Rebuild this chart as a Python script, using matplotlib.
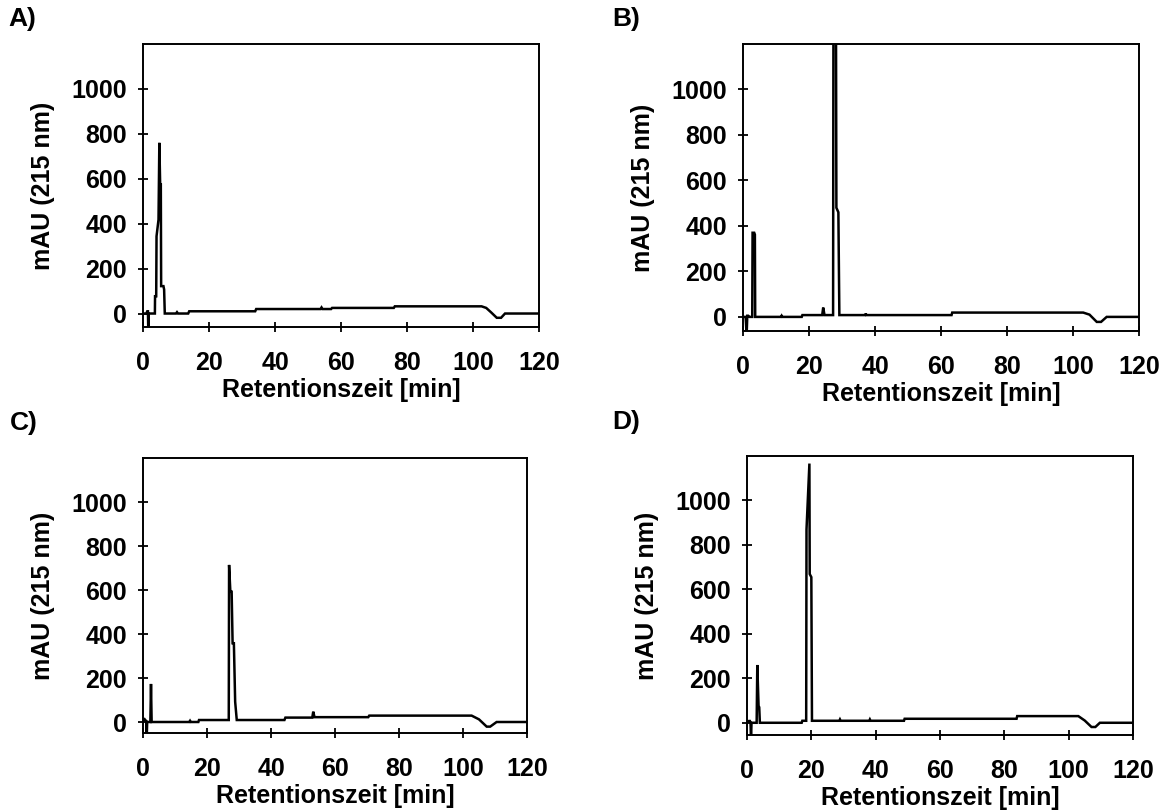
import matplotlib
matplotlib.use("Agg")
import matplotlib.pyplot as plt

plt.rcParams['font.family'] = ['Liberation Sans', 'DejaVu Sans']
plt.rcParams['font.weight'] = 'bold'

# ---- data (retention time [min], absorbance [mAU]) ----
a_time = [0, 1.0, 1.3, 1.5, 1.6, 1.7, 2.5, 3.6, 3.65, 4.0, 4.1, 4.7, 4.95, 5.2, 5.4, 5.5,
          6.2, 6.4, 6.6, 10, 10.3, 10.6, 13.7, 14, 34, 34.3, 53.8, 54.1, 54.4, 57, 57.3,
          76, 76.3, 102.6, 104, 105.5, 107.2, 108.5, 109.7, 120]
a_mau = [0, 0, 10, 10, -80, 0, 0, 0, 77, 77, 344, 418, 760, 574, 574, 122,
         122, 107, 0, 0, 6, 0, 0, 10, 10, 20, 20, 27, 20, 20, 25,
         25, 32, 32, 25, 5, -19, -19, 0, 0]

b_time = [0, 0.8, 1.1, 1.3, 1.6, 2.0, 2.8, 2.9, 3.4, 3.6, 3.7, 11.5, 11.7, 11.9, 17.8, 18.0,
          24.0, 24.3, 24.7, 27.3, 27.5, 28.0, 28.3, 28.9, 29.2, 37.0, 37.2, 37.4, 63.2, 63.4,
          103.1, 105, 107.2, 108.5, 110.2, 120]
b_mau = [0, 0, -80, 5, 5, 0, 0, 370, 370, 362, 0, 0, 5, 0, 0, 8,
         8, 41, 8, 8, 2500, 2500, 480, 460, 8, 8, 15, 8, 8, 19,
         19, 10, -22, -22, 0, 0]

c_time = [0, 0.3, 0.6, 1.0, 1.15, 1.3, 2.3, 2.5, 2.7, 14.5, 14.7, 14.9, 17.3, 17.5,
          26.8, 26.9, 27.3, 27.7, 28.0, 28.4, 28.8, 29.3, 44.2, 44.5, 52.9, 53.2, 53.6,
          70.4, 70.7, 102.7, 105, 107.4, 108.5, 110.5, 120]
c_mau = [0, 17, 10, 5, -80, 0, 0, 173, 0, 0, 5, 0, 0, 9,
         9, 714, 592, 592, 358, 358, 92, 9, 9, 20, 20, 47, 22,
         22, 29, 29, 12, -21, -21, 0, 0]

d_time = [0, 0.6, 0.9, 1.1, 1.25, 1.4, 3.0, 3.2, 3.6, 3.8, 4.0, 17.0, 17.2, 18.4, 18.5,
          19.4, 19.5, 20.0, 20.2, 28.7, 28.9, 29.1, 38.0, 38.2, 38.4, 48.8, 49.0,
          83.8, 84.0, 103.0, 105, 107.1, 108.3, 109.7, 120]
d_mau = [0, 8, 8, 0, -80, 0, 0, 260, 75, 70, 0, 0, 9, 9, 870,
         1166, 669, 655, 9, 9, 15, 9, 9, 15, 9, 9, 18,
         18, 30, 30, 10, -19, -19, 0, 0]

x_ticks = [0, 20, 40, 60, 80, 100, 120]
y_ticks = [0, 200, 400, 600, 800, 1000]
panel_letters = ['A)', 'B)', 'C)', 'D)']
x_label = 'Retentionszeit [min]'
y_label = 'mAU (215 nm)'

W, H = 1171, 811
fig = plt.figure(figsize=(W / 100, H / 100), dpi=100)

# pixel boxes: left, top, right, bottom
boxes = [(143, 44, 539, 327), (743, 44, 1139, 331),
         (143, 458, 527, 733), (747, 456, 1133, 735)]
ylims = [(-60, 1200), (-62, 1200), (-50, 1200), (-55, 1200)]
series = [(a_time, a_mau), (b_time, b_mau), (c_time, c_mau), (d_time, d_mau)]
letter_pos = [(8, 7), (612, 7), (10, 411), (612, 410)]

fs = 18
for (l, t, r, b), yl, (tx, ty), let, lp in zip(boxes, ylims, series, panel_letters, letter_pos):
    ax = fig.add_axes([l / W, 1 - b / H, (r - l) / W, (b - t) / H])
    ax.plot(tx, ty, color='black', lw=1.8, solid_joinstyle='miter')
    ax.set_xlim(0, 120)
    ax.set_ylim(*yl)
    ax.set_xticks(x_ticks)
    ax.set_yticks(y_ticks)
    ax.tick_params(direction='inout', length=7, width=1.3, labelsize=fs, colors='black')
    ax.tick_params(axis='x', pad=14)
    ax.tick_params(axis='y', pad=8)
    for lab in ax.get_xticklabels() + ax.get_yticklabels():
        lab.set_fontweight('bold')
    for s in ax.spines.values():
        s.set_linewidth(1.4)
    ax.set_xlabel(x_label, fontsize=fs, fontweight='bold', labelpad=2)
    ax.set_ylabel(y_label, fontsize=fs, fontweight='bold', labelpad=12)
    fig.text(lp[0] / W, 1 - lp[1] / H, let, fontsize=19, fontweight='bold', va='top', ha='left')

fig.savefig('out.png', dpi=100)
